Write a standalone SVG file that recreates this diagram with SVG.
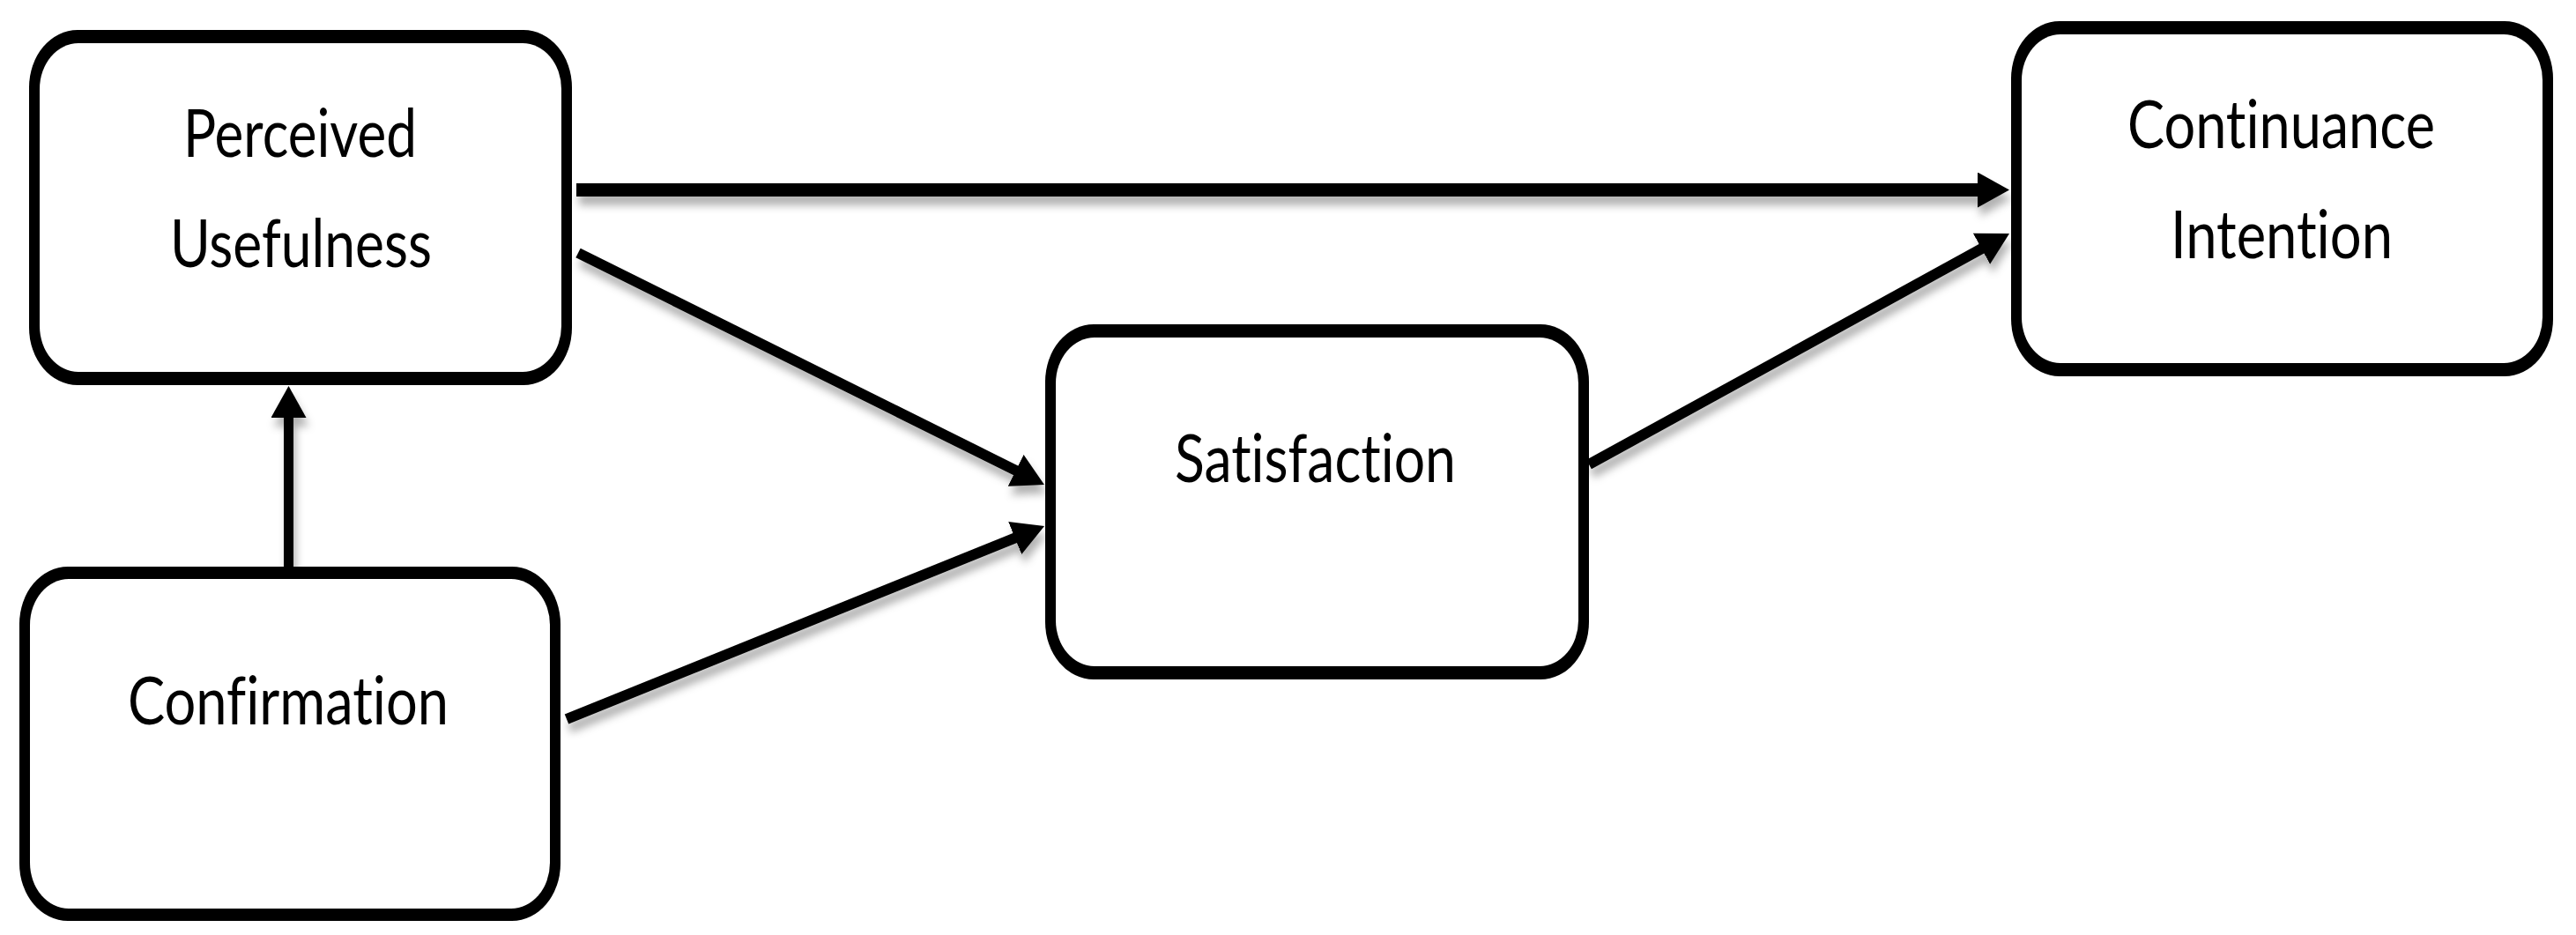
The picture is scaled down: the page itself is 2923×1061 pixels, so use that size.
<svg xmlns="http://www.w3.org/2000/svg" width="2923" height="1061" viewBox="0 0 2923 1061">
  <style>
    .outer { fill: #000; }
    .inner { fill: #fff; }
    .lbl { font-family: Lato, "Liberation Sans", sans-serif; font-size: 76px; fill: #000; text-anchor: middle; font-variant-ligatures: none; }
    .conn { stroke: #000; fill: none; marker-end: url(#head); }
  </style>
  <defs>
    <marker id="head" viewBox="0 0 36 40" refX="16" refY="20" markerWidth="36" markerHeight="40" markerUnits="userSpaceOnUse" orient="auto">
      <path d="M0,0 L36,20 L0,40 Z" fill="#000"/>
    </marker>
    <filter id="shadow" x="-10%" y="-30%" width="120%" height="160%">
      <feDropShadow dx="3" dy="10" stdDeviation="5" flood-color="#000" flood-opacity="0.3"/>
    </filter>
  </defs>
  <rect width="2923" height="1061" fill="#fff"/>

  <g id="connectors" filter="url(#shadow)">
    <line class="conn" x1="654" y1="215.5" x2="2260" y2="215.5" stroke-width="15"/>
    <line class="conn" x1="327.5" y1="643" x2="327.5" y2="458" stroke-width="11"/>
    <line class="conn" x1="656" y1="287" x2="1167" y2="541" stroke-width="12"/>
    <line class="conn" x1="643" y1="816" x2="1166.5" y2="604.5" stroke-width="12"/>
    <line class="conn" x1="1803" y1="527" x2="2262.5" y2="274.6" stroke-width="12"/>
  </g>

  <g id="perceived-usefulness">
    <rect class="outer" x="33" y="34" width="616" height="403" rx="55" ry="65"/>
    <rect class="inner" x="45" y="49" width="592" height="373" rx="44" ry="52"/>
    <text class="lbl" x="340.5" y="178" textLength="265" lengthAdjust="spacingAndGlyphs">Perceived</text>
    <text class="lbl" x="341.5" y="303" textLength="297" lengthAdjust="spacingAndGlyphs">Usefulness</text>
  </g>

  <g id="confirmation">
    <rect class="outer" x="22" y="643" width="614" height="402" rx="55" ry="65"/>
    <rect class="inner" x="34" y="657" width="590" height="374" rx="44" ry="52"/>
    <text class="lbl" x="327" y="822" textLength="364" lengthAdjust="spacingAndGlyphs">Confirmation</text>
  </g>

  <g id="satisfaction">
    <rect class="outer" x="1186" y="368" width="617" height="403" rx="55" ry="65"/>
    <rect class="inner" x="1198" y="383" width="593" height="373" rx="44" ry="52"/>
    <text class="lbl" x="1492.5" y="547" textLength="319" lengthAdjust="spacingAndGlyphs">Satisfaction</text>
  </g>

  <g id="continuance-intention">
    <rect class="outer" x="2282" y="24" width="615" height="403" rx="55" ry="65"/>
    <rect class="inner" x="2294" y="39" width="591" height="373" rx="44" ry="52"/>
    <text class="lbl" x="2588.5" y="168" textLength="349" lengthAdjust="spacingAndGlyphs">Continuance</text>
    <text class="lbl" x="2589" y="293" textLength="252" lengthAdjust="spacingAndGlyphs">Intention</text>
  </g>
</svg>
